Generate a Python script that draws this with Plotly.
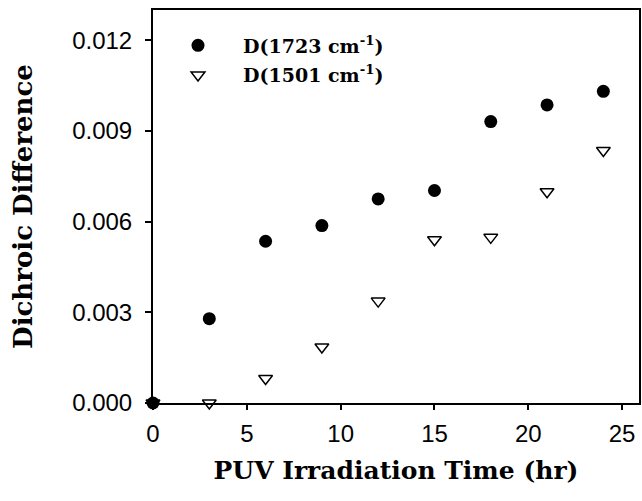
import plotly.graph_objects as go

time_hr = [0, 3, 6, 9, 12, 15, 18, 21, 24]
d_1723 = [0.0, 0.00279, 0.00535, 0.00587, 0.00675, 0.00703, 0.00931, 0.00986, 0.01031]
d_1501 = [0.0, 0.0, 0.00081, 0.00185, 0.00337, 0.00540, 0.00548, 0.00699, 0.00835]

x_ticks = [0, 5, 10, 15, 20, 25]
y_ticks = [0.0, 0.003, 0.006, 0.009, 0.012]

serif = "DejaVu Serif"
sans = "Liberation Sans"

fig = go.Figure()
fig.add_trace(go.Scatter(
    x=time_hr, y=d_1723, mode="markers", name="D(1723 cm<sup>-1</sup>)",
    marker=dict(symbol="circle", size=13, color="black"),
    cliponaxis=False, legendgroup="a"))
fig.add_trace(go.Scatter(
    x=time_hr, y=d_1501, mode="markers", name="D(1501 cm<sup>-1</sup>)",
    marker=dict(symbol="triangle-down-open", size=12, color="black",
                line=dict(width=1.5, color="black")),
    cliponaxis=False, legendgroup="b"))

fig.update_layout(
    width=642, height=501,
    margin=dict(l=153, r=1, t=10, b=98),
    paper_bgcolor="white", plot_bgcolor="white",
    showlegend=True,
    legend=dict(x=0.0, y=0.958, xanchor="left", yanchor="top",
                font=dict(family=serif, size=19, color="black", weight="bold"),
                itemwidth=80, bgcolor="rgba(0,0,0,0)", tracegroupgap=2),
    xaxis=dict(range=[0, 25.9], tickvals=x_ticks, ticktext=[str(v) for v in x_ticks],
               showgrid=False, zeroline=False, showline=True, linecolor="black",
               linewidth=2, mirror=True, ticks="outside", ticklen=5, tickwidth=2,
               tickcolor="black", ticklabelstandoff=3,
               tickfont=dict(family=sans, size=24, color="black"),
               title=dict(text="PUV Irradiation Time (hr)", standoff=16,
                          font=dict(family=serif, size=25, color="black", weight="bold"))),
    yaxis=dict(range=[0, 0.013], tickvals=y_ticks, ticktext=["%.3f" % v for v in y_ticks],
               showgrid=False, zeroline=False, showline=True, linecolor="black",
               linewidth=2, mirror=True, ticks="outside", ticklen=6, tickwidth=2,
               tickcolor="black", ticklabelstandoff=8,
               tickfont=dict(family=sans, size=24, color="black"),
               title=dict(text="Dichroic Difference", standoff=32,
                          font=dict(family=serif, size=26, color="black", weight="bold"))),
)

fig.write_html("out.html")
